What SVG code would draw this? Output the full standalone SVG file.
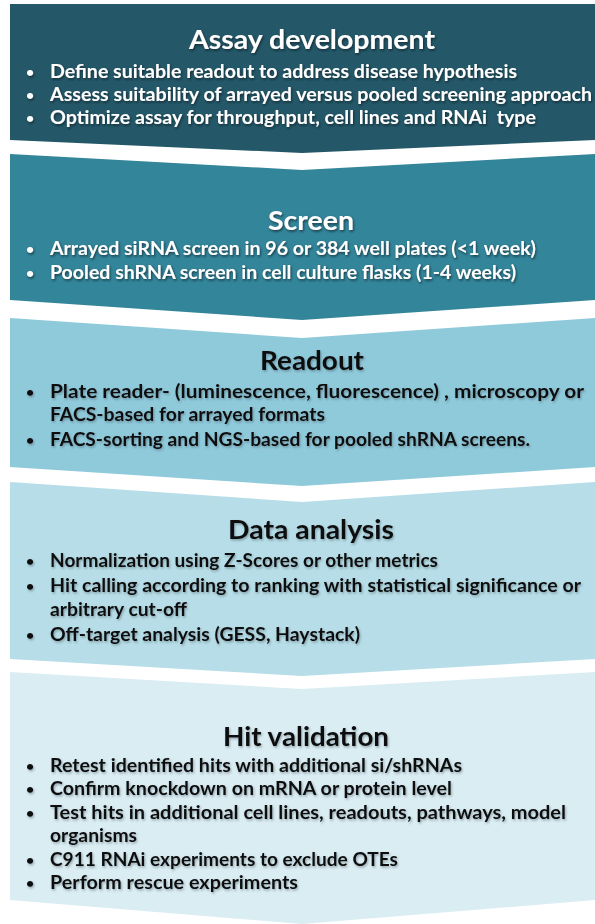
<svg xmlns="http://www.w3.org/2000/svg" width="595" height="924" viewBox="0 0 595 924">
  <defs>
    <filter id="shadowDark" x="-5%" y="-30%" width="110%" height="160%">
      <feDropShadow dx="1" dy="1.5" stdDeviation="1" flood-color="#0a1e24" flood-opacity="0.7"/>
    </filter>
    <filter id="shadowLight" x="-5%" y="-30%" width="110%" height="160%">
      <feDropShadow dx="1" dy="1.5" stdDeviation="1.2" flood-color="#3a4c52" flood-opacity="0.45"/>
    </filter>
  </defs>
  <style>
    text { font-family: Lato, "Liberation Sans", Arial, sans-serif; font-weight: 700; }
    .title { font-size: 27px; text-anchor: middle; }
    .item { font-size: 18px; }
    .dot { font-size: 14px; }
    .onDark { fill: #ffffff; filter: url(#shadowDark); }
    .onLight { fill: #111111; filter: url(#shadowLight); }
  </style>
  <rect width="595" height="924" fill="#ffffff"/>

  <g id="assay-development">
    <path d="M10,4 H595 V140 L302,153 L10,140 Z" fill="#245868"/>
    <g class="onDark">
      <text class="title" x="312" y="49" textLength="246" lengthAdjust="spacingAndGlyphs">Assay development</text>
      <text class="dot" x="26" y="77">•</text>
      <text class="item" x="50" y="78" textLength="467" lengthAdjust="spacingAndGlyphs">Define suitable readout to address disease hypothesis</text>
      <text class="dot" x="26" y="100">•</text>
      <text class="item" x="50" y="101" textLength="542" lengthAdjust="spacingAndGlyphs">Assess suitability of arrayed versus pooled screening approach</text>
      <text class="dot" x="26" y="123">•</text>
      <text class="item" x="50" y="124" textLength="486" lengthAdjust="spacingAndGlyphs" xml:space="preserve">Optimize assay for throughput, cell lines and RNAi  type</text>
    </g>
  </g>

  <g id="screen">
    <path d="M10,154 L302,170 L595,154 V300 L302,320 L10,300 Z" fill="#33859a"/>
    <g class="onDark">
      <text class="title" x="311" y="230" textLength="86" lengthAdjust="spacingAndGlyphs">Screen</text>
      <text class="dot" x="26" y="254">•</text>
      <text class="item" x="50" y="255" textLength="486" lengthAdjust="spacingAndGlyphs">Arrayed siRNA screen in 96 or 384 well plates (&lt;1 week)</text>
      <text class="dot" x="26" y="278">•</text>
      <text class="item" x="50" y="279" textLength="466" lengthAdjust="spacingAndGlyphs">Pooled shRNA screen in cell culture flasks (1-4 weeks)</text>
    </g>
  </g>

  <g id="readout">
    <path d="M10,318 L302,338 L595,318 V467 L302,486 L10,467 Z" fill="#8fcadb"/>
    <g class="onLight">
      <text class="title" x="312" y="370" textLength="104" lengthAdjust="spacingAndGlyphs">Readout</text>
      <text class="dot" x="26" y="397">•</text>
      <text class="item" x="50" y="398" textLength="534" lengthAdjust="spacingAndGlyphs">Plate reader- (luminescence, fluorescence) , microscopy or</text>
      <text class="item" x="50" y="421" textLength="275" lengthAdjust="spacingAndGlyphs">FACS-based for arrayed formats</text>
      <text class="dot" x="26" y="445">•</text>
      <text class="item" x="50" y="446" textLength="480" lengthAdjust="spacingAndGlyphs">FACS-sorting and NGS-based for pooled shRNA screens.</text>
    </g>
  </g>

  <g id="data-analysis">
    <path d="M10,482 L302,502 L595,482 V659 L302,676 L10,659 Z" fill="#b7dee8"/>
    <g class="onLight">
      <text class="title" x="311" y="539" textLength="166" lengthAdjust="spacingAndGlyphs">Data analysis</text>
      <text class="dot" x="26" y="566">•</text>
      <text class="item" x="50" y="567" textLength="388" lengthAdjust="spacingAndGlyphs">Normalization using Z-Scores or other metrics</text>
      <text class="dot" x="26" y="591">•</text>
      <text class="item" x="50" y="592" textLength="531" lengthAdjust="spacingAndGlyphs">Hit calling according to ranking with statistical significance or</text>
      <text class="item" x="50" y="616" textLength="137" lengthAdjust="spacingAndGlyphs">arbitrary cut-off</text>
      <text class="dot" x="26" y="640">•</text>
      <text class="item" x="50" y="641" textLength="310" lengthAdjust="spacingAndGlyphs">Off-target analysis (GESS, Haystack)</text>
    </g>
  </g>

  <g id="hit-validation">
    <path d="M10,672 L302,689 L595,672 V900 L302,924 L10,900 Z" fill="#daedf3"/>
    <g class="onLight">
      <text class="title" x="306" y="746" textLength="166" lengthAdjust="spacingAndGlyphs">Hit validation</text>
      <text class="dot" x="26" y="771">•</text>
      <text class="item" x="50" y="772" textLength="412" lengthAdjust="spacingAndGlyphs">Retest identified hits with additional si/shRNAs</text>
      <text class="dot" x="26" y="794">•</text>
      <text class="item" x="50" y="795" textLength="402" lengthAdjust="spacingAndGlyphs">Confirm knockdown on mRNA or protein level</text>
      <text class="dot" x="26" y="818">•</text>
      <text class="item" x="50" y="819" textLength="516" lengthAdjust="spacingAndGlyphs">Test hits in additional cell lines, readouts, pathways, model</text>
      <text class="item" x="50" y="842" textLength="87" lengthAdjust="spacingAndGlyphs">organisms</text>
      <text class="dot" x="26" y="865">•</text>
      <text class="item" x="50" y="866" textLength="348" lengthAdjust="spacingAndGlyphs">C911 RNAi experiments to exclude OTEs</text>
      <text class="dot" x="26" y="888">•</text>
      <text class="item" x="50" y="889" textLength="248" lengthAdjust="spacingAndGlyphs">Perform rescue experiments</text>
    </g>
  </g>
</svg>
